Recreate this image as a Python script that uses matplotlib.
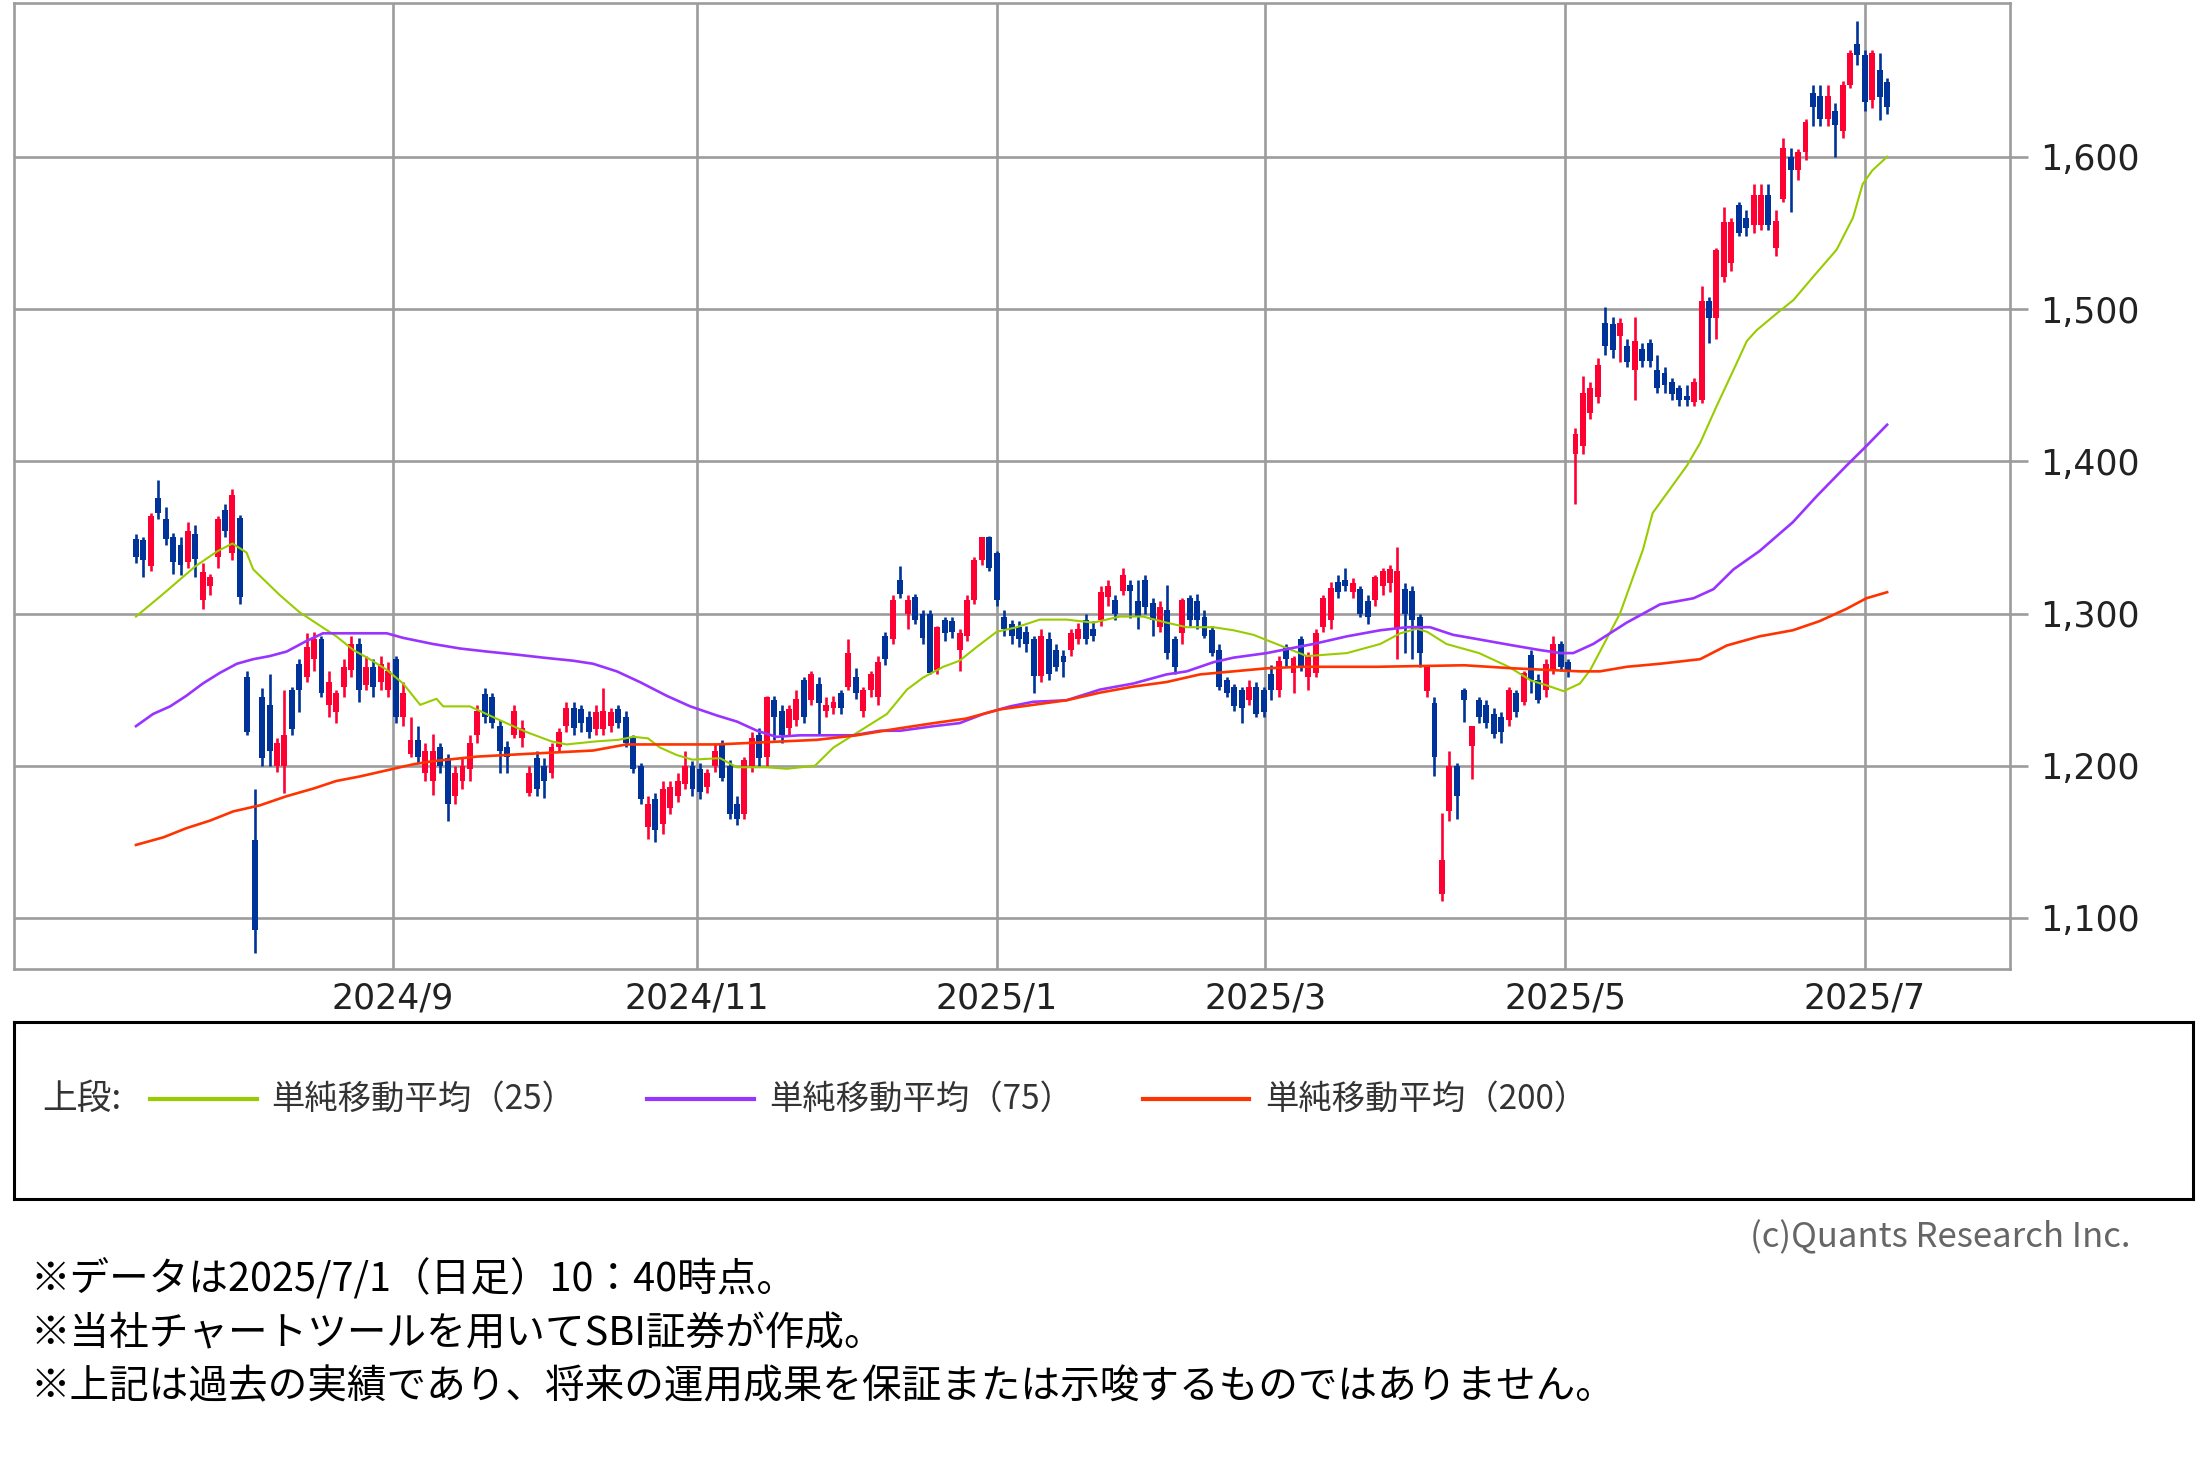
import matplotlib
matplotlib.use('Agg')
import matplotlib.pyplot as plt
import numpy as np

# ---------------- data ----------------
opens = [1349,1348,1331,1376,1362,1350,1345,1334,1352,1309,
         1318,1337,1368,1340,1363,1258,1151,1245,1240,1200,
         1200,1250,1267,1258,1270,1283,1240,1235,1252,1263,
         1280,1253,1265,1255,1250,1270,1232,1208,1217,1195,
         1190,1212,1205,1180,1190,1198,1220,1247,1245,1226,
         1212,1220,1218,1182,1205,1200,1195,1212,1226,1238,
         1237,1232,1224,1224,1226,1237,1232,1218,1200,1160,
         1178,1162,1172,1180,1188,1200,1198,1186,1200,1215,
         1200,1175,1168,1200,1220,1206,1243,1236,1225,1230,
         1256,1243,1254,1236,1238,1248,1252,1258,1236,1250,
         1245,1285,1283,1322,1300,1311,1300,1300,1263,1296,
         1295,1276,1285,1309,1335,1350,1340,1298,1293,1291,
         1288,1283,1259,1283,1276,1272,1276,1283,1296,1290,
         1296,1311,1309,1315,1319,1308,1322,1307,1291,1302,
         1283,1287,1310,1308,1298,1289,1276,1256,1252,1250,
         1243,1252,1250,1260,1250,1278,1261,1283,1258,1261,
         1291,1296,1321,1322,1314,1316,1308,1309,1318,1320,
         1290,1316,1315,1298,1249,1241,1116,1170,1200,1250,
         1213,1243,1240,1234,1232,1230,1248,1242,1273,1256,
         1250,1263,1280,1268,1405,1410,1432,1442,1491,1490,
         1482,1476,1460,1474,1478,1460,1458,1452,1448,1443,
         1439,1440,1505,1494,1521,1530,1568,1560,1555,1555,
         1575,1540,1572,1600,1591,1603,1642,1640,1625,1630,
         1617,1647,1674,1667,1637,1657,1649]
highs = [1352,1350,1366,1388,1370,1353,1350,1360,1358,1333,
         1326,1364,1372,1382,1365,1262,1185,1251,1260,1218,
         1250,1252,1270,1287,1288,1285,1262,1250,1270,1285,
         1284,1272,1270,1272,1268,1272,1255,1232,1226,1215,
         1221,1215,1208,1200,1205,1220,1240,1251,1248,1230,
         1216,1240,1230,1200,1210,1205,1215,1225,1242,1242,
         1240,1236,1240,1251,1238,1240,1236,1220,1202,1180,
         1182,1190,1190,1195,1210,1203,1202,1198,1215,1217,
         1204,1180,1206,1222,1225,1246,1246,1240,1240,1250,
         1258,1262,1258,1245,1246,1250,1283,1264,1252,1262,
         1272,1288,1312,1331,1312,1313,1302,1302,1292,1298,
         1298,1290,1312,1337,1350,1351,1341,1302,1296,1295,
         1292,1285,1290,1288,1280,1276,1290,1294,1300,1295,
         1318,1322,1312,1330,1322,1322,1325,1310,1308,1319,
         1285,1310,1312,1313,1302,1292,1280,1258,1254,1252,
         1256,1255,1252,1266,1272,1280,1272,1285,1275,1290,
         1312,1321,1325,1330,1323,1318,1312,1325,1330,1332,
         1344,1320,1318,1300,1265,1245,1169,1210,1202,1251,
         1226,1245,1243,1238,1235,1252,1250,1262,1276,1260,
         1270,1285,1282,1270,1422,1456,1452,1468,1501,1495,
         1494,1480,1495,1478,1480,1470,1462,1455,1450,1450,
         1455,1515,1508,1540,1567,1560,1570,1565,1582,1582,
         1582,1565,1612,1606,1605,1625,1647,1647,1647,1635,
         1650,1670,1689,1670,1670,1668,1652]
lows = [1333,1324,1328,1362,1345,1326,1325,1330,1324,1303,
        1312,1330,1350,1335,1306,1220,1077,1200,1200,1196,
        1182,1220,1235,1255,1262,1245,1232,1228,1245,1258,
        1242,1250,1245,1250,1245,1228,1226,1206,1202,1190,
        1181,1195,1164,1175,1185,1190,1215,1228,1225,1195,
        1195,1218,1212,1180,1180,1179,1192,1210,1222,1220,
        1222,1218,1220,1220,1222,1225,1212,1195,1175,1152,
        1150,1155,1168,1176,1185,1180,1178,1182,1196,1190,
        1165,1161,1165,1196,1200,1200,1217,1215,1220,1226,
        1228,1240,1221,1232,1234,1234,1250,1244,1232,1245,
        1240,1266,1280,1310,1290,1293,1280,1260,1260,1282,
        1284,1262,1282,1306,1332,1328,1305,1285,1280,1278,
        1275,1248,1255,1256,1262,1258,1272,1280,1280,1282,
        1292,1305,1296,1312,1297,1290,1300,1285,1288,1270,
        1260,1280,1292,1290,1284,1272,1250,1245,1236,1228,
        1240,1232,1232,1243,1245,1265,1248,1262,1250,1258,
        1288,1290,1310,1315,1310,1298,1293,1305,1312,1314,
        1270,1274,1270,1265,1245,1193,1111,1164,1165,1229,
        1191,1228,1225,1218,1215,1226,1232,1240,1248,1241,
        1245,1260,1262,1258,1372,1405,1428,1438,1470,1468,
        1465,1462,1440,1462,1462,1445,1445,1440,1436,1436,
        1436,1438,1478,1480,1518,1525,1548,1548,1550,1552,
        1552,1535,1570,1564,1585,1598,1620,1620,1620,1600,
        1612,1645,1660,1630,1632,1624,1628]
closes = [1337,1335,1364,1366,1349,1334,1332,1354,1336,1327,
          1324,1362,1354,1378,1311,1222,1092,1205,1210,1215,
          1220,1224,1250,1278,1283,1248,1255,1248,1265,1280,
          1250,1265,1252,1267,1262,1232,1248,1217,1206,1210,
          1210,1200,1175,1195,1200,1215,1236,1232,1228,1210,
          1206,1236,1225,1195,1185,1190,1212,1222,1238,1225,
          1228,1222,1235,1236,1235,1228,1215,1198,1178,1175,
          1158,1185,1186,1190,1200,1185,1183,1195,1210,1192,
          1168,1165,1204,1218,1205,1245,1232,1220,1237,1244,
          1232,1260,1241,1240,1242,1238,1274,1248,1250,1260,
          1268,1270,1309,1313,1309,1296,1284,1261,1291,1287,
          1288,1287,1309,1335,1350,1330,1309,1290,1285,1283,
          1280,1259,1285,1260,1265,1268,1287,1290,1283,1285,
          1314,1318,1300,1325,1315,1298,1304,1296,1304,1274,
          1265,1309,1296,1296,1285,1274,1252,1248,1239,1238,
          1252,1234,1235,1250,1269,1270,1271,1265,1273,1287,
          1310,1317,1314,1318,1320,1300,1298,1324,1328,1329,
          1328,1300,1296,1274,1265,1206,1138,1200,1180,1243,
          1226,1232,1228,1221,1222,1250,1235,1261,1256,1243,
          1267,1280,1265,1262,1418,1445,1448,1463,1476,1473,
          1491,1465,1479,1466,1466,1448,1450,1444,1440,1440,
          1452,1505,1494,1539,1557,1557,1550,1553,1575,1575,
          1555,1558,1606,1591,1603,1623,1633,1625,1640,1621,
          1647,1668,1667,1636,1668,1639,1633]

ma25_x = [0,3.7,8,11,13,14.9,15.8,19.4,22,24.8,27,29.3,31.5,33.8,36,38.3,40.5,41.4,45,49,
          52.7,56,58,62,65,67,69,70.6,72.9,75,78.7,81,85,87.7,91.5,94,97.6,101.2,103.9,106.1,
          108.8,111,113.3,116,118.7,121.8,125.4,129,132.6,135.7,138.9,141.6,145.2,147.9,150.6,153.7,157.8,163.2,167.7,170.4,
          172.6,174,176.6,181,185,188,190,192.4,194.6,196,200,203.1,204.4,209,210.8,213,215.3,217.1,218.4,221.1,
          223.4,226,229.2,231.4,232.7,234,236]
ma25_y = [1298,1313,1331,1341,1346,1340,1329,1312,1301,1292,1285,1276,1270,1263,1254,1240,1244,1239,1239,1230,
          1222,1216,1214,1216,1217,1219,1218,1212,1207,1204,1205,1199,1199,1198,1200,1212,1223,1234,1250,1258,
          1265,1269,1278,1288,1291,1296,1296,1294,1298,1298,1294,1291,1291,1289,1286,1280,1272,1274,1280,1287,
          1290,1288,1280,1274,1265,1256,1253,1249,1254,1263,1300,1342,1366,1397,1412,1436,1460,1479,1486,1497,
          1506,1521,1539,1560,1582,1591,1600]

ma75_x = [0,2.3,4.6,6.8,9,11.3,13.6,15.8,18,20.3,23,25.2,29.3,33.8,36,40,43.7,47.3,51.3,54.9,
          58.9,61.6,64.8,67.9,71.5,74.7,78.3,81,83.7,86.3,89.5,94,96.7,100.3,103,107.5,111,114.2,117.8,120.9,
          125.4,129.9,134.4,138.9,141.6,145.2,147.9,152.4,155.5,158.7,163.2,167.7,171.3,174.4,177.5,181,185.6,189.2,192,193.7,
          196.4,200.9,205.4,209.9,212.6,215.3,218.8,223.3,226.5,230.5,233.2,236]
ma75_y = [1226,1234,1239,1246,1254,1261,1267,1270,1272,1275,1282,1287,1287,1287,1284,1280,1277,1275,1273,1271,
          1269,1267,1262,1255,1246,1239,1233,1229,1223,1219,1220,1220,1220,1223,1223,1226,1228,1234,1239,1242,
          1243,1250,1254,1260,1262,1268,1271,1274,1277,1280,1285,1289,1291,1291,1286,1283,1279,1276,1274,1274,
          1280,1294,1306,1310,1316,1329,1341,1360,1377,1397,1410,1424]

ma200_x = [0,3.7,6.8,10,13.1,16.7,20.3,23.9,27,30.2,33.8,37.4,40,45.9,53.5,61.6,66.1,71.5,78.3,87.2,
           91.7,97.1,102.1,107.5,111.9,116.4,120.9,125.4,129.9,134.4,138.9,143.4,147.9,152.4,156.9,167.2,179,185.6,194.6,197.3,
           200.9,205.4,210.8,214.4,218.8,223.3,226.9,230.5,233.2,236]
ma200_y = [1148,1153,1159,1164,1170,1174,1180,1185,1190,1193,1197,1201,1203,1206,1208,1210,1214,1214,1214,1216,
           1217,1220,1224,1228,1231,1237,1240,1243,1248,1252,1255,1260,1262,1264,1265,1265,1266,1264,1262,1262,
           1265,1267,1270,1279,1285,1289,1295,1303,1310,1314]

tick_pos = [34.6, 75.6, 116.0, 152.2, 192.6, 233.0]
tick_labels = ['2024/9', '2024/11', '2025/1', '2025/3', '2025/5', '2025/7']
price_ticks = [1100, 1200, 1300, 1400, 1500, 1600]

legend_labels = ['単純移動平均（25）', '単純移動平均（75）', '単純移動平均（200）']
ma_colors = ['#99CC00', '#9933FF', '#FF3300']
notes = ['※データは2025/7/1（日足）10：40時点。',
         '※当社チャートツールを用いてSBI証券が作成。',
         '※上記は過去の実績であり、将来の運用成果を保証または示唆するものではありません。']

# ---------------- figure ----------------
W, H = 2201, 1464
fig = plt.figure(figsize=(W / 100, H / 100), dpi=100)
fig.patch.set_facecolor('white')
JP = ['Noto Sans CJK JP', 'DejaVu Sans']
GRID = '#9c9c9c'

ax = fig.add_axes([14 / W, 1 - 969 / H, (2010 - 14) / W, (969 - 3) / H])
o = np.array(opens, float); h = np.array(highs, float)
l = np.array(lows, float); c = np.array(closes, float)
x = np.arange(len(c))
up = c >= o
cols = np.where(up, '#FF0033', '#003399')
ax.vlines(x, l, h, colors=cols, lw=1.9, zorder=3)
body = np.maximum(np.abs(c - o), 1.8)
ax.bar(x, body, bottom=np.minimum(o, c), width=0.8, color=cols, linewidth=0, zorder=3)

ax.plot(ma25_x, ma25_y, color=ma_colors[0], lw=1.5, zorder=4)
ax.plot(ma75_x, ma75_y, color=ma_colors[1], lw=1.9, zorder=4)
ax.plot(ma200_x, ma200_y, color=ma_colors[2], lw=1.9, zorder=4)

ax.set_xlim(-16.44, 252.56)
ax.set_ylim(1066.5, 1701)
ax.set_xticks(tick_pos)
ax.set_xticklabels(tick_labels, family='DejaVu Sans')
ax.set_yticks(price_ticks)
ax.set_yticklabels([f'{v:,}' for v in price_ticks], family='DejaVu Sans')
ax.yaxis.tick_right()
ax.grid(True, color=GRID, lw=1.9)
ax.set_axisbelow(True)
ax.tick_params(axis='y', length=13, width=1.9, color=GRID, pad=9,
               labelsize=25, labelcolor='#222222')
ax.tick_params(axis='x', length=0, pad=9, labelsize=25, labelcolor='#222222')
for s in ax.spines.values():
    s.set_color(GRID)
    s.set_linewidth(1.9)

# ---------------- legend box ----------------
lax = fig.add_axes([14 / W, 1 - 1199 / H, (2193 - 14) / W, (1199 - 1022) / H])
lax.set_xlim(14, 2193)
lax.set_ylim(1199, 1022)
lax.set_xticks([]); lax.set_yticks([])
for s in lax.spines.values():
    s.set_color('black')
    s.set_linewidth(2.2)
ly = 1099
lax.text(42, ly, '上段:', family=JP, fontsize=25, color='#333333', va='center', ha='left')
seg_x = [(150, 257, 271), (647, 754, 769), (1143, 1249, 1265)]
for (x0, x1, tx), lab, colr in zip(seg_x, legend_labels, ma_colors):
    lax.plot([x0, x1], [ly, ly], color=colr, lw=3)
    lax.text(tx, ly, lab, family=JP, fontsize=24, color='#333333', va='center', ha='left')

# ---------------- footer texts ----------------
fig.text(2131 / W, 1 - 1238 / H, '(c)Quants Research Inc.', family=JP, fontsize=25,
         color='#666666', ha='right', va='center')
for yy, t in zip([1280, 1334, 1387], notes):
    fig.text(31 / W, 1 - yy / H, t, family=JP, fontsize=28.5, color='black',
             ha='left', va='center')

fig.savefig('out.png', dpi=100, facecolor='white')
